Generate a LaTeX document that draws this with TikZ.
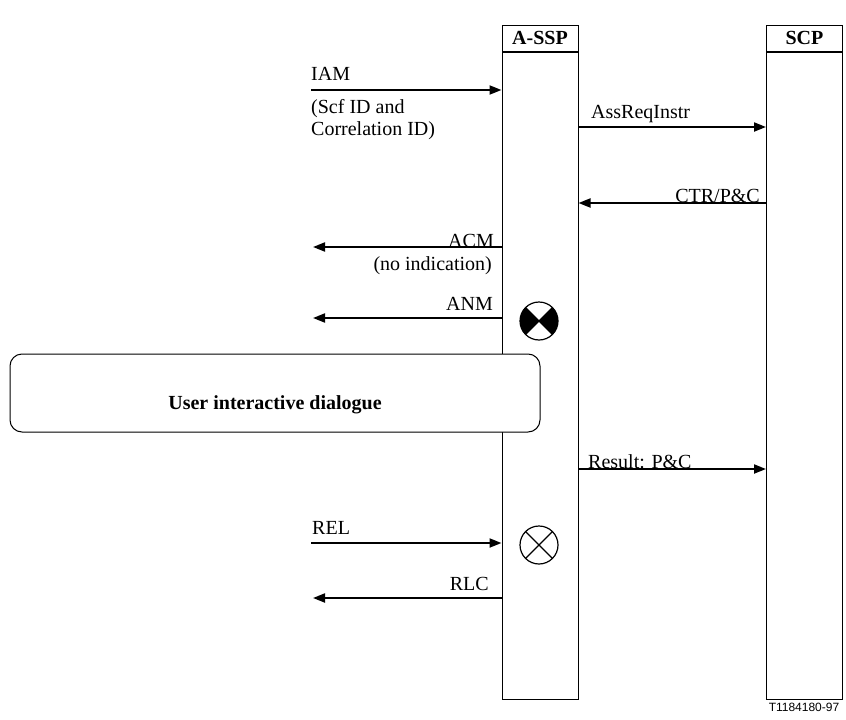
\documentclass[tikz,border=0pt]{standalone}
\usepackage{fontspec}
\setmainfont{Liberation Serif}
\setsansfont{Liberation Sans}
\usetikzlibrary{positioning,arrows.meta}

\begin{document}
\begin{tikzpicture}[
    x=1pt, y=-1pt,
    head/.style={rectangle, draw, line width=1pt, minimum width=76pt, minimum height=26pt, inner sep=0pt, font=\fontsize{20}{23}\selectfont\bfseries},
    lifeline/.style={rectangle, draw, line width=1pt, minimum width=76pt, minimum height=647pt, inner sep=0pt, anchor=north},
    lbl/.style={inner sep=0pt, font=\fontsize{20}{22}\selectfont, align=left},
    msg/.style={-{Triangle[length=12pt,width=9pt]}, line width=2pt},
    dialog/.style={rectangle, draw, line width=1pt, fill=white, rounded corners=12pt, minimum width=530pt, minimum height=78pt},
    sym/.style={circle, draw, line width=1.2pt, minimum size=38pt, inner sep=0pt, outer sep=0pt}
]
\useasboundingbox (0,0) rectangle (846,720);

% lifelines
\node[head] (asspH) at (540,38) {A-SSP};
\node[lifeline] (assp) at (asspH.south) {};
\node[head] (scpH) at (804.5,38) {SCP};
\node[lifeline] (scp) at (scpH.south) {};

% messages
\coordinate (iam) at (311,90);
\draw[msg] (iam) -- (iam -| assp.west);
\node[lbl, anchor=base west] (iamT) at (311,80) {IAM};
\node[lbl, anchor=base west] (iamP) at (311,135) {(Scf ID and\\Correlation ID)};

\coordinate (ari) at (assp.east |- 0,127);
\draw[msg] (ari) -- (ari -| scp.west);
\node[lbl, anchor=base west] (ariT) at (591,118) {AssReqInstr};

\coordinate (ctr) at (scp.west |- 0,203);
\draw[msg] (ctr) -- (ctr -| assp.east);
\node[lbl, anchor=base east] (ctrT) at (760,202) {CTR/P\&C};

\coordinate (acm) at (313,247);
\draw[msg] (acm -| assp.west) -- (acm);
\node[lbl, anchor=base east] (acmT) at (494,247) {ACM};
\node[lbl, anchor=base east] (acmP) at (492,270) {(no indication)};

\coordinate (anm) at (313,318);
\draw[msg] (anm -| assp.west) -- (anm);
\node[lbl, anchor=base east] (anmT) at (493,310) {ANM};

% answer symbol
\node[sym] (ans) at (539,321) {};
\fill (ans.center) -- (ans.north east) arc[start angle=45, end angle=-45, radius=19pt] -- cycle;
\fill (ans.center) -- (ans.north west) arc[start angle=135, end angle=225, radius=19pt] -- cycle;
\draw[line width=1.2pt] (ans.north west) -- (ans.south east);
\draw[line width=1.2pt] (ans.north east) -- (ans.south west);

% dialogue
\node[dialog] (uid) at (275,393) {};
\node[lbl, font=\fontsize{20}{23}\selectfont\bfseries] (uidT) at (275,405) {User interactive dialogue};

\coordinate (res) at (assp.east |- 0,469);
\draw[msg] (res) -- (res -| scp.west);
\node[lbl, anchor=base west] (resT) at (588,468) {Result: P\&C};

\coordinate (rel) at (311,543);
\draw[msg] (rel) -- (rel -| assp.west);
\node[lbl, anchor=base west] (relT) at (312,534) {REL};

% release symbol
\node[sym] (rls) at (539,545) {};
\draw[line width=1.2pt] (rls.north west) -- (rls.south east);
\draw[line width=1.2pt] (rls.north east) -- (rls.south west);

\coordinate (rlc) at (313,598);
\draw[msg] (rlc -| assp.west) -- (rlc);
\node[lbl, anchor=base east] (rlcT) at (489,590) {RLC};

\node[font=\sffamily\fontsize{12}{14}\selectfont, anchor=base] (ref) at (804,711) {T1184180-97};
\end{tikzpicture}
\end{document}
